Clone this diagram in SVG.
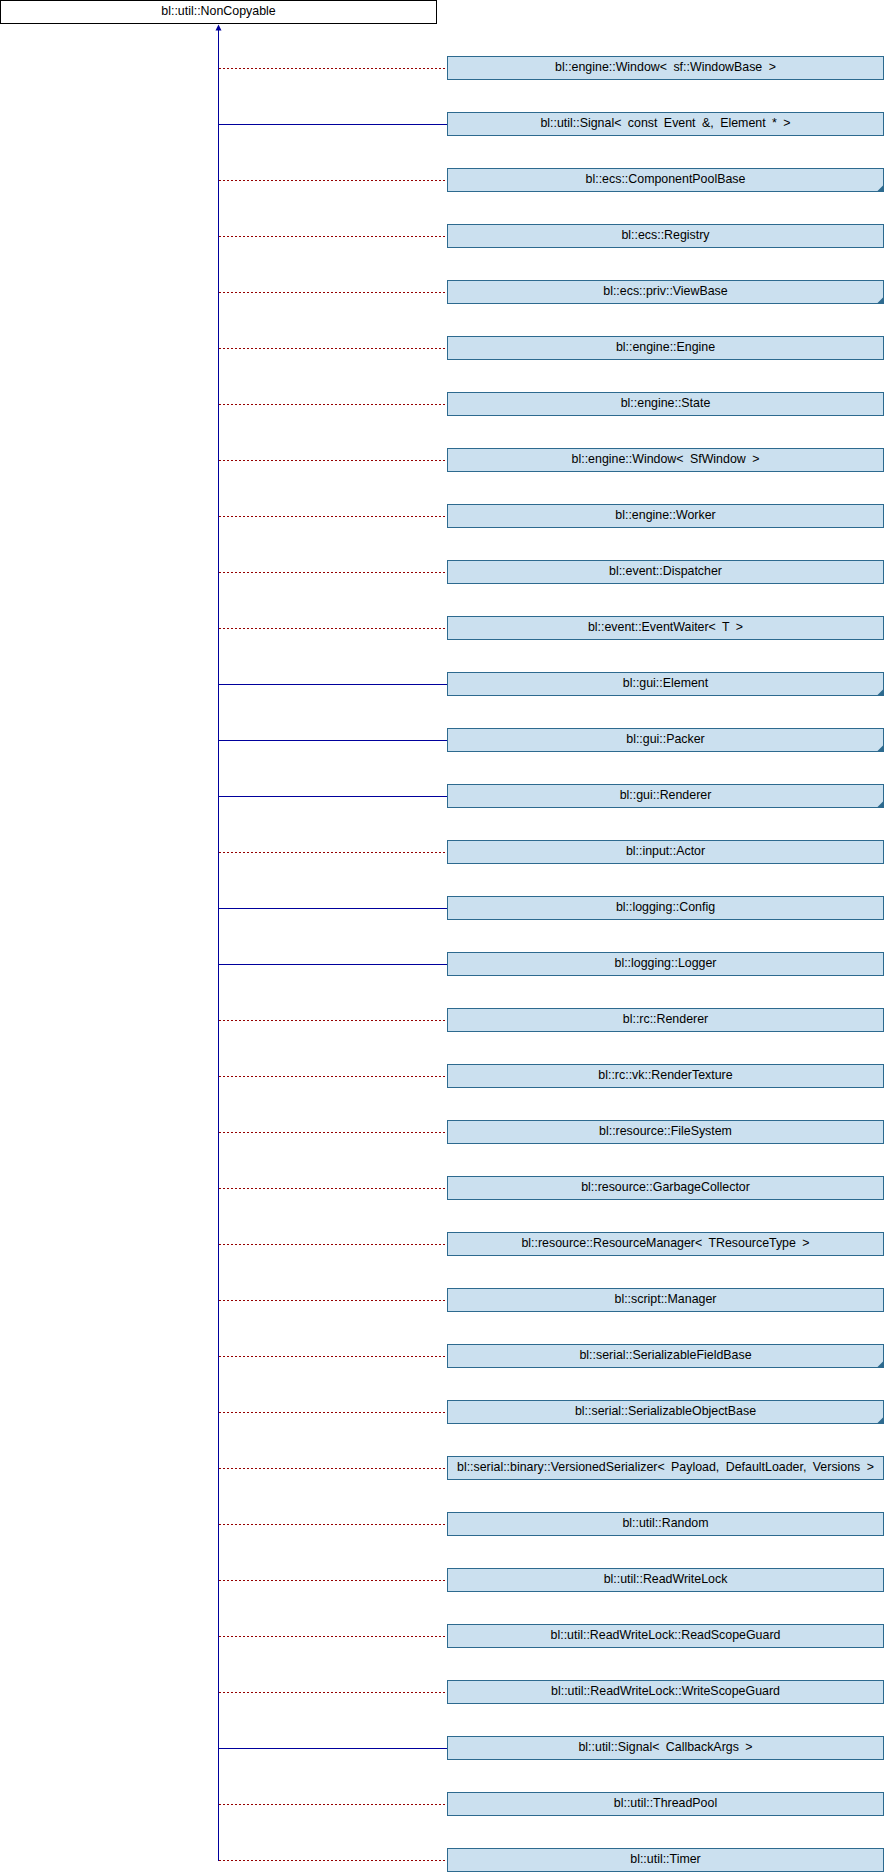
<svg xmlns="http://www.w3.org/2000/svg" width="884" height="1872" viewBox="0 0 884 1872">
  <style>
    text { font-family: "Liberation Sans", Arial, sans-serif; font-size: 12.4px; word-spacing: 3px; text-anchor: middle; fill: #000; }
    .root rect { fill: #fff; stroke: #000; stroke-width: 1; }
    .cls rect { fill: #cbe0ef; stroke: #2d6a8f; stroke-width: 1; }
    .more { fill: #2d6a8f; }
    .pub { stroke: #00009c; stroke-width: 1; fill: none; }
    .priv { stroke: #960000; stroke-width: 1; fill: none; stroke-dasharray: 2 2; }
    .head { fill: #00009c; }
  </style>

  <!-- base class -->
  <g id="NonCopyable" class="root">
    <rect x="0.5" y="0.5" width="436" height="23"/>
    <text x="218.5" y="15">bl::util::NonCopyable</text>
  </g>

  <!-- inheritance connectors -->
  <g id="connectors">
    <line class="pub" x1="218.5" y1="29" x2="218.5" y2="1861"/>
    <polygon class="head" points="218.5,24.5 215.5,30.5 221.5,30.5"/>
    <line class="priv" x1="219" y1="68.5" x2="447" y2="68.5"/>
    <line class="pub" x1="219" y1="124.5" x2="447" y2="124.5"/>
    <line class="priv" x1="219" y1="180.5" x2="447" y2="180.5"/>
    <line class="priv" x1="219" y1="236.5" x2="447" y2="236.5"/>
    <line class="priv" x1="219" y1="292.5" x2="447" y2="292.5"/>
    <line class="priv" x1="219" y1="348.5" x2="447" y2="348.5"/>
    <line class="priv" x1="219" y1="404.5" x2="447" y2="404.5"/>
    <line class="priv" x1="219" y1="460.5" x2="447" y2="460.5"/>
    <line class="priv" x1="219" y1="516.5" x2="447" y2="516.5"/>
    <line class="priv" x1="219" y1="572.5" x2="447" y2="572.5"/>
    <line class="priv" x1="219" y1="628.5" x2="447" y2="628.5"/>
    <line class="pub" x1="219" y1="684.5" x2="447" y2="684.5"/>
    <line class="pub" x1="219" y1="740.5" x2="447" y2="740.5"/>
    <line class="pub" x1="219" y1="796.5" x2="447" y2="796.5"/>
    <line class="priv" x1="219" y1="852.5" x2="447" y2="852.5"/>
    <line class="pub" x1="219" y1="908.5" x2="447" y2="908.5"/>
    <line class="pub" x1="219" y1="964.5" x2="447" y2="964.5"/>
    <line class="priv" x1="219" y1="1020.5" x2="447" y2="1020.5"/>
    <line class="priv" x1="219" y1="1076.5" x2="447" y2="1076.5"/>
    <line class="priv" x1="219" y1="1132.5" x2="447" y2="1132.5"/>
    <line class="priv" x1="219" y1="1188.5" x2="447" y2="1188.5"/>
    <line class="priv" x1="219" y1="1244.5" x2="447" y2="1244.5"/>
    <line class="priv" x1="219" y1="1300.5" x2="447" y2="1300.5"/>
    <line class="priv" x1="219" y1="1356.5" x2="447" y2="1356.5"/>
    <line class="priv" x1="219" y1="1412.5" x2="447" y2="1412.5"/>
    <line class="priv" x1="219" y1="1468.5" x2="447" y2="1468.5"/>
    <line class="priv" x1="219" y1="1524.5" x2="447" y2="1524.5"/>
    <line class="priv" x1="219" y1="1580.5" x2="447" y2="1580.5"/>
    <line class="priv" x1="219" y1="1636.5" x2="447" y2="1636.5"/>
    <line class="priv" x1="219" y1="1692.5" x2="447" y2="1692.5"/>
    <line class="pub" x1="219" y1="1748.5" x2="447" y2="1748.5"/>
    <line class="priv" x1="219" y1="1804.5" x2="447" y2="1804.5"/>
    <line class="priv" x1="219" y1="1860.5" x2="447" y2="1860.5"/>
  </g>

  <!-- derived classes -->
  <g id="Window_WindowBase" class="cls" transform="translate(0,56)">
    <rect x="447.5" y="0.5" width="436" height="23"/>
    <text x="665.5" y="15">bl::engine::Window&lt; sf::WindowBase &gt;</text>
  </g>
  <g id="Signal_Event_Element" class="cls" transform="translate(0,112)">
    <rect x="447.5" y="0.5" width="436" height="23"/>
    <text x="665.5" y="15">bl::util::Signal&lt; const Event &amp;, Element * &gt;</text>
  </g>
  <g id="ComponentPoolBase" class="cls" transform="translate(0,168)">
    <rect x="447.5" y="0.5" width="436" height="23"/>
    <polygon class="more" points="883.5,17 883.5,23.5 877,23.5"/>
    <text x="665.5" y="15">bl::ecs::ComponentPoolBase</text>
  </g>
  <g id="Registry" class="cls" transform="translate(0,224)">
    <rect x="447.5" y="0.5" width="436" height="23"/>
    <text x="665.5" y="15">bl::ecs::Registry</text>
  </g>
  <g id="ViewBase" class="cls" transform="translate(0,280)">
    <rect x="447.5" y="0.5" width="436" height="23"/>
    <polygon class="more" points="883.5,17 883.5,23.5 877,23.5"/>
    <text x="665.5" y="15">bl::ecs::priv::ViewBase</text>
  </g>
  <g id="Engine" class="cls" transform="translate(0,336)">
    <rect x="447.5" y="0.5" width="436" height="23"/>
    <text x="665.5" y="15">bl::engine::Engine</text>
  </g>
  <g id="State" class="cls" transform="translate(0,392)">
    <rect x="447.5" y="0.5" width="436" height="23"/>
    <text x="665.5" y="15">bl::engine::State</text>
  </g>
  <g id="Window_SfWindow" class="cls" transform="translate(0,448)">
    <rect x="447.5" y="0.5" width="436" height="23"/>
    <text x="665.5" y="15">bl::engine::Window&lt; SfWindow &gt;</text>
  </g>
  <g id="Worker" class="cls" transform="translate(0,504)">
    <rect x="447.5" y="0.5" width="436" height="23"/>
    <text x="665.5" y="15">bl::engine::Worker</text>
  </g>
  <g id="Dispatcher" class="cls" transform="translate(0,560)">
    <rect x="447.5" y="0.5" width="436" height="23"/>
    <text x="665.5" y="15">bl::event::Dispatcher</text>
  </g>
  <g id="EventWaiter" class="cls" transform="translate(0,616)">
    <rect x="447.5" y="0.5" width="436" height="23"/>
    <text x="665.5" y="15">bl::event::EventWaiter&lt; T &gt;</text>
  </g>
  <g id="Element" class="cls" transform="translate(0,672)">
    <rect x="447.5" y="0.5" width="436" height="23"/>
    <polygon class="more" points="883.5,17 883.5,23.5 877,23.5"/>
    <text x="665.5" y="15">bl::gui::Element</text>
  </g>
  <g id="Packer" class="cls" transform="translate(0,728)">
    <rect x="447.5" y="0.5" width="436" height="23"/>
    <polygon class="more" points="883.5,17 883.5,23.5 877,23.5"/>
    <text x="665.5" y="15">bl::gui::Packer</text>
  </g>
  <g id="GuiRenderer" class="cls" transform="translate(0,784)">
    <rect x="447.5" y="0.5" width="436" height="23"/>
    <polygon class="more" points="883.5,17 883.5,23.5 877,23.5"/>
    <text x="665.5" y="15">bl::gui::Renderer</text>
  </g>
  <g id="Actor" class="cls" transform="translate(0,840)">
    <rect x="447.5" y="0.5" width="436" height="23"/>
    <text x="665.5" y="15">bl::input::Actor</text>
  </g>
  <g id="Config" class="cls" transform="translate(0,896)">
    <rect x="447.5" y="0.5" width="436" height="23"/>
    <text x="665.5" y="15">bl::logging::Config</text>
  </g>
  <g id="Logger" class="cls" transform="translate(0,952)">
    <rect x="447.5" y="0.5" width="436" height="23"/>
    <text x="665.5" y="15">bl::logging::Logger</text>
  </g>
  <g id="RcRenderer" class="cls" transform="translate(0,1008)">
    <rect x="447.5" y="0.5" width="436" height="23"/>
    <text x="665.5" y="15">bl::rc::Renderer</text>
  </g>
  <g id="RenderTexture" class="cls" transform="translate(0,1064)">
    <rect x="447.5" y="0.5" width="436" height="23"/>
    <text x="665.5" y="15">bl::rc::vk::RenderTexture</text>
  </g>
  <g id="FileSystem" class="cls" transform="translate(0,1120)">
    <rect x="447.5" y="0.5" width="436" height="23"/>
    <text x="665.5" y="15">bl::resource::FileSystem</text>
  </g>
  <g id="GarbageCollector" class="cls" transform="translate(0,1176)">
    <rect x="447.5" y="0.5" width="436" height="23"/>
    <text x="665.5" y="15">bl::resource::GarbageCollector</text>
  </g>
  <g id="ResourceManager" class="cls" transform="translate(0,1232)">
    <rect x="447.5" y="0.5" width="436" height="23"/>
    <text x="665.5" y="15">bl::resource::ResourceManager&lt; TResourceType &gt;</text>
  </g>
  <g id="ScriptManager" class="cls" transform="translate(0,1288)">
    <rect x="447.5" y="0.5" width="436" height="23"/>
    <text x="665.5" y="15">bl::script::Manager</text>
  </g>
  <g id="SerializableFieldBase" class="cls" transform="translate(0,1344)">
    <rect x="447.5" y="0.5" width="436" height="23"/>
    <polygon class="more" points="883.5,17 883.5,23.5 877,23.5"/>
    <text x="665.5" y="15">bl::serial::SerializableFieldBase</text>
  </g>
  <g id="SerializableObjectBase" class="cls" transform="translate(0,1400)">
    <rect x="447.5" y="0.5" width="436" height="23"/>
    <polygon class="more" points="883.5,17 883.5,23.5 877,23.5"/>
    <text x="665.5" y="15">bl::serial::SerializableObjectBase</text>
  </g>
  <g id="VersionedSerializer" class="cls" transform="translate(0,1456)">
    <rect x="447.5" y="0.5" width="436" height="23"/>
    <text x="665.5" y="15">bl::serial::binary::VersionedSerializer&lt; Payload, DefaultLoader, Versions &gt;</text>
  </g>
  <g id="Random" class="cls" transform="translate(0,1512)">
    <rect x="447.5" y="0.5" width="436" height="23"/>
    <text x="665.5" y="15">bl::util::Random</text>
  </g>
  <g id="ReadWriteLock" class="cls" transform="translate(0,1568)">
    <rect x="447.5" y="0.5" width="436" height="23"/>
    <text x="665.5" y="15">bl::util::ReadWriteLock</text>
  </g>
  <g id="ReadScopeGuard" class="cls" transform="translate(0,1624)">
    <rect x="447.5" y="0.5" width="436" height="23"/>
    <text x="665.5" y="15">bl::util::ReadWriteLock::ReadScopeGuard</text>
  </g>
  <g id="WriteScopeGuard" class="cls" transform="translate(0,1680)">
    <rect x="447.5" y="0.5" width="436" height="23"/>
    <text x="665.5" y="15">bl::util::ReadWriteLock::WriteScopeGuard</text>
  </g>
  <g id="Signal_CallbackArgs" class="cls" transform="translate(0,1736)">
    <rect x="447.5" y="0.5" width="436" height="23"/>
    <text x="665.5" y="15">bl::util::Signal&lt; CallbackArgs &gt;</text>
  </g>
  <g id="ThreadPool" class="cls" transform="translate(0,1792)">
    <rect x="447.5" y="0.5" width="436" height="23"/>
    <text x="665.5" y="15">bl::util::ThreadPool</text>
  </g>
  <g id="Timer" class="cls" transform="translate(0,1848)">
    <rect x="447.5" y="0.5" width="436" height="23"/>
    <text x="665.5" y="15">bl::util::Timer</text>
  </g>
</svg>
